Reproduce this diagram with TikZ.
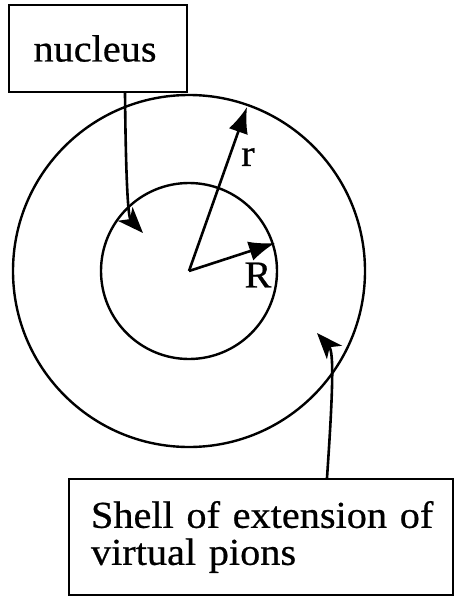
\documentclass[tikz,border=0pt]{standalone}
\usepackage{fontspec}
\setmainfont{Liberation Serif}[FakeStretch=1.06,FakeBold=0.6]
\usetikzlibrary{arrows.meta}
\tikzset{
  labelbox/.style={draw,line width=2.2pt,font=\fontsize{38}{37}\selectfont},
  radius arrow/.style={line width=2.6pt,-{Latex[length=26pt,width=20pt]}},
  pointer/.style={line width=2.6pt,-{Stealth[length=26pt,width=20pt,inset=7pt]}}
}
\begin{document}
\begin{tikzpicture}[x=1pt,y=-1pt,line width=2.4pt]
    \useasboundingbox (0,0) rectangle (454,599);
    \def\R{88pt}
    \coordinate (o) at (189,271);
    \draw (o) circle (\R);
    \draw (o) circle (2*\R);
    % radii
    \coordinate (rtip) at (247,107);
    \coordinate (Rtip) at (275,243);
    \draw[radius arrow] (o) -- (rtip);
    \draw[radius arrow] (o) -- (Rtip);
    \node[font=\fontsize{38}{37}\selectfont] (rlab) at (248,157) {r};
    \node[font=\fontsize{38}{37}\selectfont] (Rlab) at (258,275) {R};
    % boxes
    \node[labelbox,minimum width=178pt,minimum height=87pt] (nucleus) at (98,48.5) {\hspace*{-6pt}nucleus};
    \node[labelbox,align=left,text width=352pt,inner xsep=16pt,minimum height=116pt] (shell) at (261,537)
      {\hspace*{6pt}Shell of extension of\\\hspace*{6pt}virtual pions};
    % pointers
    \coordinate (nuctip) at (143,233);
    \coordinate (shelltip) at (317,333);
    \draw[pointer] ([xshift=27pt]nucleus.south) .. controls (126,200) and (129,218) .. (nuctip);
    \draw[pointer] ([xshift=66pt]shell.north) .. controls (333,390) and (334,352) .. (shelltip);
\end{tikzpicture}
\end{document}
